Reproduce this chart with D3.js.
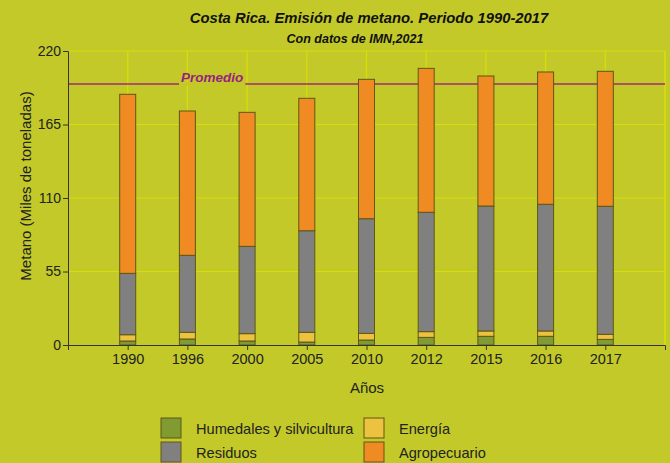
<!DOCTYPE html>
<html><head><meta charset="utf-8">
<script src="https://cdn.jsdelivr.net/npm/d3@7"></script>
<style>
html,body{margin:0;padding:0;background:#c3c928;}
svg{display:block;font-family:"Liberation Sans",Arial,sans-serif;}
</style></head>
<body>
<svg id="c" width="670" height="463"></svg>
<script>
const years = ["1990","1996","2000","2005","2010","2012","2015","2016","2017"];
const humedales = [3.0, 4.5, 3.0, 2.2, 3.7, 5.7, 6.5, 6.5, 4.2];
const energia = [4.7, 5.0, 5.5, 7.3, 5.0, 4.3, 4.0, 4.0, 3.8];
const residuos = [45.9, 57.6, 65.3, 76.0, 85.8, 89.3, 93.5, 94.8, 95.8];
const agropecuario = [134.0, 108.0, 100.3, 99.1, 104.3, 107.7, 97.3, 99.0, 101.0];
const promedio = 195.3;
const yTicks = [0, 55, 110, 165, 220];
const seriesNames = ["Humedales y silvicultura","Energía","Residuos","Agropecuario"];
const seriesColors = ["#7f9b32","#ecc23f","#808080","#f08a22"];

const svg = d3.select("#c");
const W = 670, H = 463;
svg.append("rect").attr("width",W).attr("height",H).attr("fill","#c3c928");

const x0 = 68, x1 = 665, yTop = 51, yBot = 345;
const x = d3.scaleLinear().domain([0, years.length+1]).range([x0, x1]);
const y = d3.scaleLinear().domain([0, 220]).range([yBot, yTop]);

const data = years.map((yr,i)=>({year:yr,i:i,
  "Humedales y silvicultura":humedales[i],"Energía":energia[i],
  "Residuos":residuos[i],"Agropecuario":agropecuario[i]}));
const stack = d3.stack().keys(seriesNames)(data);

const gridC = "#d8df06";
svg.append("g").selectAll("line").data(yTicks.filter(d=>d>0)).join("line")
  .attr("x1",x0).attr("x2",x1).attr("y1",d=>y(d)).attr("y2",d=>y(d))
  .attr("stroke",gridC).attr("stroke-width",1.2);
svg.append("g").selectAll("line").data(years).join("line")
  .attr("x1",(d,i)=>x(i+1)).attr("x2",(d,i)=>x(i+1)).attr("y1",yTop).attr("y2",yBot)
  .attr("stroke",gridC).attr("stroke-width",1.2);
svg.append("line").attr("x1",x1).attr("x2",x1).attr("y1",yTop).attr("y2",yBot)
  .attr("stroke",gridC).attr("stroke-width",1.5);

// promedio line
const py = y(promedio);
svg.append("line").attr("x1",x0).attr("x2",x1).attr("y1",py).attr("y2",py)
  .attr("stroke","#a4287a").attr("stroke-width",1.3);
const pl = svg.append("text").attr("x",181).attr("y",py-2).attr("font-size",13.5)
  .attr("font-weight","bold").attr("font-style","italic").attr("fill","#9a1f80").text("Promedio");
const bb = pl.node().getBBox();
svg.insert("rect", "text").attr("x",bb.x-2).attr("y",py-2).attr("width",bb.width+4).attr("height",4).attr("fill","#c3c928");

// bars
const bw = 16;
const gBars = svg.append("g");
stack.forEach((s,k)=>{
  gBars.append("g").selectAll("rect").data(s).join("rect")
    .attr("x",d=>x(d.data.i+1)-bw/2).attr("width",bw)
    .attr("y",d=>y(d[1])).attr("height",d=>y(d[0])-y(d[1]))
    .attr("fill",seriesColors[k]).attr("stroke","#5e5717").attr("stroke-width",1);
});

// axes
const axC = "#333";
const yAxis = d3.axisLeft(y).tickValues(yTicks).tickSize(5).tickPadding(2);
const gy = svg.append("g").attr("transform",`translate(${x0},0)`).call(yAxis);
gy.select(".domain").attr("stroke",axC);
gy.selectAll(".tick line").attr("stroke",axC);
gy.selectAll("text").attr("font-size",14).attr("fill","#222").attr("font-family","Liberation Sans, Arial, sans-serif");

const xAxis = d3.axisBottom(x).tickValues(d3.range(1, years.length+1)).tickFormat(d=>years[d-1]).tickSize(5).tickSizeOuter(5).tickPadding(4);
const gx = svg.append("g").attr("transform",`translate(0,${yBot})`).call(xAxis);
gx.select(".domain").attr("stroke",axC);
gx.selectAll(".tick line").attr("stroke",axC);
gx.selectAll("text").attr("font-size",14.5).attr("fill","#222").attr("font-family","Liberation Sans, Arial, sans-serif");

// titles
svg.append("text").attr("x",369).attr("y",23).attr("text-anchor","middle")
  .attr("font-size",14.8).attr("font-weight","bold").attr("font-style","italic").attr("fill","#111")
  .text("Costa Rica. Emisión de metano. Periodo 1990-2017");
svg.append("text").attr("x",355).attr("y",43).attr("text-anchor","middle")
  .attr("font-size",12.5).attr("font-weight","bold").attr("font-style","italic").attr("fill","#111")
  .text("Con datos de IMN,2021");
svg.append("text").attr("transform","translate(31,186) rotate(-90)").attr("text-anchor","middle")
  .attr("font-size",15).attr("fill","#222").text("Metano (Miles de toneladas)");
svg.append("text").attr("x",367).attr("y",393).attr("text-anchor","middle")
  .attr("font-size",15).attr("fill","#222").text("Años");

// legend
const legendItems = [
  {k:0, cx:161, ty:418}, {k:1, cx:364, ty:418},
  {k:2, cx:161, ty:442}, {k:3, cx:364, ty:442}
];
const lg = svg.append("g");
legendItems.forEach(it=>{
  lg.append("rect").attr("x",it.cx).attr("y",it.ty).attr("width",20).attr("height",20)
    .attr("fill",seriesColors[it.k]).attr("stroke","#5e5717").attr("stroke-width",1);
  lg.append("text").attr("x",it.cx+35).attr("y",it.ty+16).attr("font-size",14.6).attr("fill","#222")
    .text(seriesNames[it.k]);
});
</script>
</body></html>
